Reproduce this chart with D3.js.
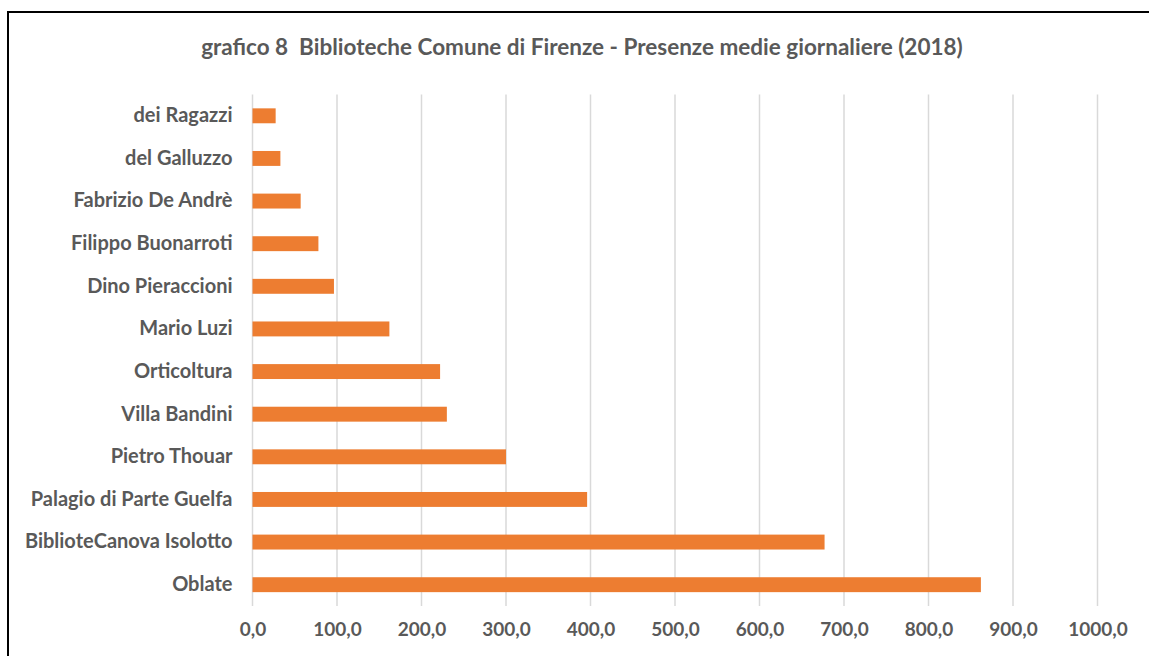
<!DOCTYPE html>
<html>
<head>
  <meta charset="utf-8">
  <title>Biblioteche Comune di Firenze</title>
  <script src="https://d3js.org/d3.v7.min.js"></script>
  <style>
    body { margin: 0; background: #fff; font-family: Lato, "Open Sans", sans-serif; }
    svg { display: block; }
    .label { fill: #595959; font-weight: bold; }
  </style>
</head>
<body>
  <div id="chart"></div>
  <script>
    // Data (top to bottom as drawn)
    const categories = [
      "dei Ragazzi", "del Galluzzo", "Fabrizio De Andrè", "Filippo Buonarroti",
      "Dino Pieraccioni", "Mario Luzi", "Orticoltura", "Villa Bandini",
      "Pietro Thouar", "Palagio di Parte Guelfa", "BiblioteCanova Isolotto", "Oblate"
    ];
    const values = [27.4, 33, 57, 78, 96.4, 162, 222, 230, 300, 396, 677, 862];
    const tickValues = [0, 100, 200, 300, 400, 500, 600, 700, 800, 900, 1000];
    const title = "grafico 8  Biblioteche Comune di Firenze - Presenze medie giornaliere (2018)";

    const width = 1149, height = 656;
    const plot = { left: 252.5, right: 1097.5, top: 94.5, bottom: 606 };

    const svg = d3.select("#chart").append("svg")
      .attr("width", width)
      .attr("height", height);

    // chart frame (bottom and right fall outside the picture)
    svg.append("rect")
      .attr("x", 8).attr("y", 12)
      .attr("width", 1160).attr("height", 700)
      .attr("fill", "none")
      .attr("stroke", "#000")
      .attr("stroke-width", 2);

    svg.append("text")
      .attr("class", "label")
      .attr("x", 582).attr("y", 55)
      .attr("text-anchor", "middle")
      .style("font-size", "22.5px")
      .style("white-space", "pre")
      .text(title);

    const x = d3.scaleLinear().domain([0, 1000]).range([plot.left, plot.right]);
    const y = d3.scaleBand().domain(categories)
      .range([plot.top, plot.bottom])
      .paddingInner(0.65).paddingOuter(0.325);

    // gridlines
    svg.append("g")
      .selectAll("line")
      .data(tickValues)
      .enter().append("line")
      .attr("x1", d => x(d)).attr("x2", d => x(d))
      .attr("y1", plot.top).attr("y2", plot.bottom)
      .attr("stroke", "#d9d9d9")
      .attr("stroke-width", 1.5);

    // x axis labels
    const fmt = d => d3.format(".1f")(d).replace(".", ",");
    const xAxis = svg.append("g")
      .attr("transform", `translate(0,${plot.bottom})`)
      .call(d3.axisBottom(x).tickValues(tickValues).tickFormat(fmt).tickSize(0).tickPadding(17));
    xAxis.select(".domain").remove();
    xAxis.selectAll("text")
      .attr("class", "label")
      .style("font-size", "19px")
      .style("font-family", "Lato, 'Open Sans', sans-serif");

    // y axis labels
    const yAxis = svg.append("g")
      .attr("transform", `translate(${plot.left},0)`)
      .call(d3.axisLeft(y).tickSize(0).tickPadding(20));
    yAxis.select(".domain").remove();
    yAxis.selectAll("text")
      .attr("class", "label")
      .style("font-size", "20px")
      .style("font-family", "Lato, 'Open Sans', sans-serif");

    // bars
    svg.append("g")
      .selectAll("rect")
      .data(values)
      .enter().append("rect")
      .attr("x", x(0))
      .attr("y", (d, i) => y(categories[i]))
      .attr("width", d => x(d) - x(0))
      .attr("height", y.bandwidth())
      .attr("fill", "#ed7d31");
  </script>
</body>
</html>
